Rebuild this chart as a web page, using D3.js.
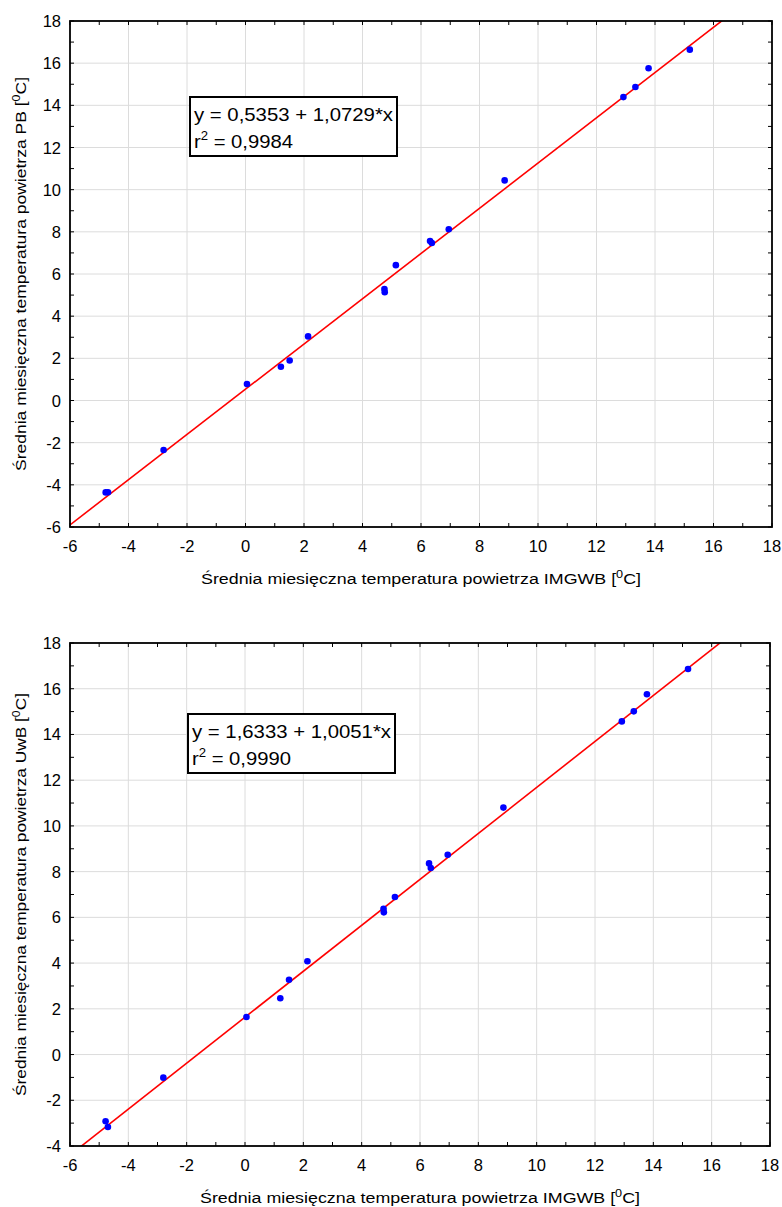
<html>
<head>
<meta charset="utf-8">
<script src="https://d3js.org/d3.v7.min.js"></script>
<style>
  body { margin: 0; background: #fff; }
  text { font-family: "Liberation Sans", Arial, sans-serif; fill: #000; }
  .tick-label { font-size: 16.5px; }
  .title { font-size: 15.5px; }
  .eq { font-size: 18.5px; }
</style>
</head>
<body>
<div id="chart"></div>
<script>
// IMGWB monthly mean temperature (x, shared by both panels)
const imgwb = [-4.78, -4.70, -2.80, 0.05, 1.21, 1.51, 2.14, 4.75, 4.76, 5.14, 6.31, 6.37, 6.95, 8.86, 12.92, 13.33, 13.78, 15.19];
// PB station (top panel)
const pb = [-4.36, -4.35, -2.35, 0.78, 1.60, 1.90, 3.04, 5.29, 5.14, 6.42, 7.56, 7.47, 8.12, 10.44, 14.39, 14.87, 15.76, 16.64];
// UwB station (bottom panel)
const uwb = [-2.92, -3.17, -1.01, 1.64, 2.46, 3.27, 4.08, 6.38, 6.22, 6.89, 8.36, 8.16, 8.74, 10.80, 14.57, 15.01, 15.76, 16.86];

const xTicks = [-6, -4, -2, 0, 2, 4, 6, 8, 10, 12, 14, 16, 18];
const yTicksTop = [-6, -4, -2, 0, 2, 4, 6, 8, 10, 12, 14, 16, 18];
const yTicksBottom = [-4, -2, 0, 2, 4, 6, 8, 10, 12, 14, 16, 18];

const fitTop = { a: 0.5353, b: 1.0729, eq: "y = 0,5353 + 1,0729*x", r2: "0,9984" };
const fitBottom = { a: 1.6333, b: 1.0051, eq: "y = 1,6333 + 1,0051*x", r2: "0,9990" };

const svg = d3.select("#chart").append("svg")
  .attr("width", 782)
  .attr("height", 1207);

function drawPanel(opt) {
  const g = svg.append("g");
  const x = d3.scaleLinear().domain([-6, 18]).range([opt.left, opt.right]);
  const y = d3.scaleLinear().domain(opt.yDomain).range([opt.bottom, opt.top]);

  // grid
  g.selectAll(".gx").data(xTicks.slice(1, -1)).enter().append("line")
    .attr("x1", d => x(d)).attr("x2", d => x(d))
    .attr("y1", opt.top).attr("y2", opt.bottom)
    .attr("stroke", "#dcdcdc").attr("stroke-width", 1);
  g.selectAll(".gy").data(opt.yTicks.slice(1, -1)).enter().append("line")
    .attr("y1", d => y(d)).attr("y2", d => y(d))
    .attr("x1", opt.left).attr("x2", opt.right)
    .attr("stroke", "#dcdcdc").attr("stroke-width", 1);

  // inward ticks on all four sides (every unit)
  const xMinor = d3.range(-6, 18.01, 1);
  const yMinor = d3.range(opt.yDomain[0], opt.yDomain[1] + 0.01, 1);
  const tk = 4;
  const ticks = g.append("g").attr("stroke", "#000").attr("stroke-width", 1);
  xMinor.forEach(v => {
    ticks.append("line").attr("x1", x(v)).attr("x2", x(v)).attr("y1", opt.bottom).attr("y2", opt.bottom - tk);
    ticks.append("line").attr("x1", x(v)).attr("x2", x(v)).attr("y1", opt.top).attr("y2", opt.top + tk);
  });
  yMinor.forEach(v => {
    ticks.append("line").attr("y1", y(v)).attr("y2", y(v)).attr("x1", opt.left).attr("x2", opt.left + tk);
    ticks.append("line").attr("y1", y(v)).attr("y2", y(v)).attr("x1", opt.right).attr("x2", opt.right - tk);
  });

  // regression line clipped to plot area
  const clipId = "clip" + opt.id;
  svg.append("clipPath").attr("id", clipId).append("rect")
    .attr("x", opt.left).attr("y", opt.top)
    .attr("width", opt.right - opt.left).attr("height", opt.bottom - opt.top);
  const x0 = -6, x1 = 18;
  g.append("line")
    .attr("clip-path", `url(#${clipId})`)
    .attr("x1", x(x0)).attr("y1", y(opt.fit.a + opt.fit.b * x0))
    .attr("x2", x(x1)).attr("y2", y(opt.fit.a + opt.fit.b * x1))
    .attr("stroke", "#ff0000").attr("stroke-width", 1.6);

  // points
  g.selectAll(".pt").data(imgwb).enter().append("circle")
    .attr("cx", d => x(d))
    .attr("cy", (d, i) => y(opt.ys[i]))
    .attr("r", 3.3)
    .attr("fill", "#0000ff");

  // frame
  g.append("rect")
    .attr("x", opt.left).attr("y", opt.top)
    .attr("width", opt.right - opt.left).attr("height", opt.bottom - opt.top)
    .attr("fill", "none").attr("stroke", "#000").attr("stroke-width", 1.8);

  // tick labels
  g.selectAll(".xl").data(xTicks).enter().append("text")
    .attr("class", "tick-label")
    .attr("x", d => x(d)).attr("y", opt.bottom + 25)
    .attr("text-anchor", "middle")
    .text(d => d);
  g.selectAll(".yl").data(opt.yTicks).enter().append("text")
    .attr("class", "tick-label")
    .attr("x", opt.left - 9).attr("y", d => y(d) + 6)
    .attr("text-anchor", "end")
    .text(d => d);

  // axis titles
  const cx = (opt.left + opt.right) / 2;
  const xt = g.append("text").attr("class", "title")
    .attr("x", cx).attr("y", opt.bottom + 57)
    .attr("text-anchor", "middle")
    .attr("textLength", 440).attr("lengthAdjust", "spacingAndGlyphs");
  xt.append("tspan").text("Średnia miesięczna temperatura powietrza IMGWB [");
  xt.append("tspan").attr("dy", -6).attr("font-size", "11px").text("0");
  xt.append("tspan").attr("dy", 6).text("C]");

  const cy = (opt.top + opt.bottom) / 2;
  const yt = g.append("text").attr("class", "title")
    .attr("transform", `translate(26,${cy}) rotate(-90)`)
    .attr("text-anchor", "middle")
    .attr("textLength", opt.yTitleLen).attr("lengthAdjust", "spacingAndGlyphs");
  yt.append("tspan").text("Średnia miesięczna temperatura powietrza " + opt.station + " [");
  yt.append("tspan").attr("dy", -6).attr("font-size", "11px").text("0");
  yt.append("tspan").attr("dy", 6).text("C]");

  // equation box
  const b = opt.box;
  g.append("rect")
    .attr("x", b.x).attr("y", b.y).attr("width", b.w).attr("height", b.h)
    .attr("fill", "#fff").attr("stroke", "#000").attr("stroke-width", 2);
  g.append("text").attr("class", "eq")
    .attr("x", b.x + 4).attr("y", b.y + 24)
    .attr("textLength", 199).attr("lengthAdjust", "spacingAndGlyphs")
    .text(opt.fit.eq);
  const r = g.append("text").attr("class", "eq")
    .attr("x", b.x + 4).attr("y", b.y + 51)
    .attr("textLength", 99).attr("lengthAdjust", "spacingAndGlyphs");
  r.append("tspan").text("r");
  r.append("tspan").attr("dy", -8).attr("font-size", "12px").text("2");
  r.append("tspan").attr("dy", 8).text(" = " + opt.fit.r2);
}

drawPanel({
  id: "top", left: 70, right: 772, top: 21, bottom: 527,
  yDomain: [-6, 18], yTicks: yTicksTop, ys: pb, fit: fitTop, station: "PB",
  yTitleLen: 394,
  box: { x: 190, y: 97, w: 207, h: 59 }
});

drawPanel({
  id: "bottom", left: 70, right: 770, top: 643, bottom: 1146,
  yDomain: [-4, 18], yTicks: yTicksBottom, ys: uwb, fit: fitBottom, station: "UwB",
  yTitleLen: 403,
  box: { x: 188, y: 714, w: 207, h: 59 }
});
</script>
</body>
</html>
